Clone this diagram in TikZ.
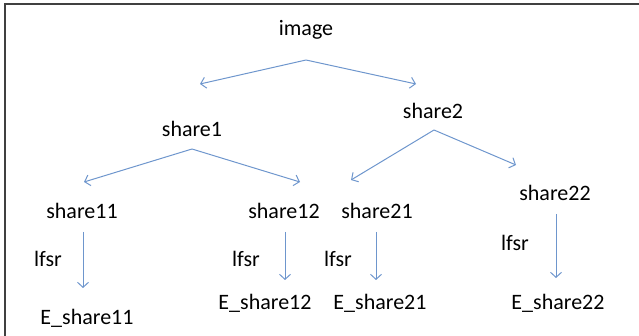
\documentclass[tikz,border=0pt]{standalone}
\usepackage{fontspec}
\setmainfont{Carlito}
\usetikzlibrary{arrows.meta}
\definecolor{arrowblue}{RGB}{110,150,205}
\begin{document}
\begin{tikzpicture}[x=1pt,y=-1pt,
  lbl/.style={inner sep=0pt,font=\fontsize{22}{25}\selectfont,text=black},
  conn/.style={draw=arrowblue,line width=1pt,-{Straight Barb[length=5pt,width=11pt]}}]
\useasboundingbox (0,0) rectangle (639,336);
\draw[line width=2.5pt,black!75] (5,336) -- (5,4) -- (639,4);
% nodes
\node[lbl] (image) at (306,30) {image};
\node[lbl] (s1) at (192,129) {share1};
\node[lbl] (s2) at (433,111) {share2};
\node[lbl] (s11) at (82,211) {share11};
\node[lbl] (s12) at (284,211) {share12};
\node[lbl] (s21) at (377,211) {share21};
\node[lbl] (s22) at (555,193) {share22};
\node[lbl] (l1) at (48,259) {lfsr};
\node[lbl] (l2) at (246,259) {lfsr};
\node[lbl] (l3) at (338,259) {lfsr};
\node[lbl] (l4) at (515,243) {lfsr};
\node[lbl] (e11) at (87,318) {E\_share11};
\node[lbl] (e12) at (265,303) {E\_share12};
\node[lbl] (e21) at (380,303) {E\_share21};
\node[lbl] (e22) at (558,303) {E\_share22};
% connector end points
\coordinate (a0) at (306,60);
\coordinate (a1) at (200,84);
\coordinate (a2) at (416,84);
\coordinate (b0) at (192,149);
\coordinate (b1) at (84,182);
\coordinate (b2) at (300,182);
\coordinate (c0) at (434,130);
\coordinate (c1) at (351,180);
\coordinate (c2) at (516,165);
\coordinate (d1s) at (83,232);
\coordinate (d1e) at (83,288);
\coordinate (d2s) at (285,232);
\coordinate (d2e) at (285,280);
\coordinate (d3s) at (376,232);
\coordinate (d3e) at (376,280);
\coordinate (d4s) at (556,214);
\coordinate (d4e) at (556,278);
\draw[conn] (a0) -- (a1);
\draw[conn] (a0) -- (a2);
\draw[conn] (b0) -- (b1);
\draw[conn] (b0) -- (b2);
\draw[conn] (c0) -- (c1);
\draw[conn] (c0) -- (c2);
\draw[conn] (d1s) -- (d1e);
\draw[conn] (d2s) -- (d2e);
\draw[conn] (d3s) -- (d3e);
\draw[conn] (d4s) -- (d4e);
\end{tikzpicture}
\end{document}
